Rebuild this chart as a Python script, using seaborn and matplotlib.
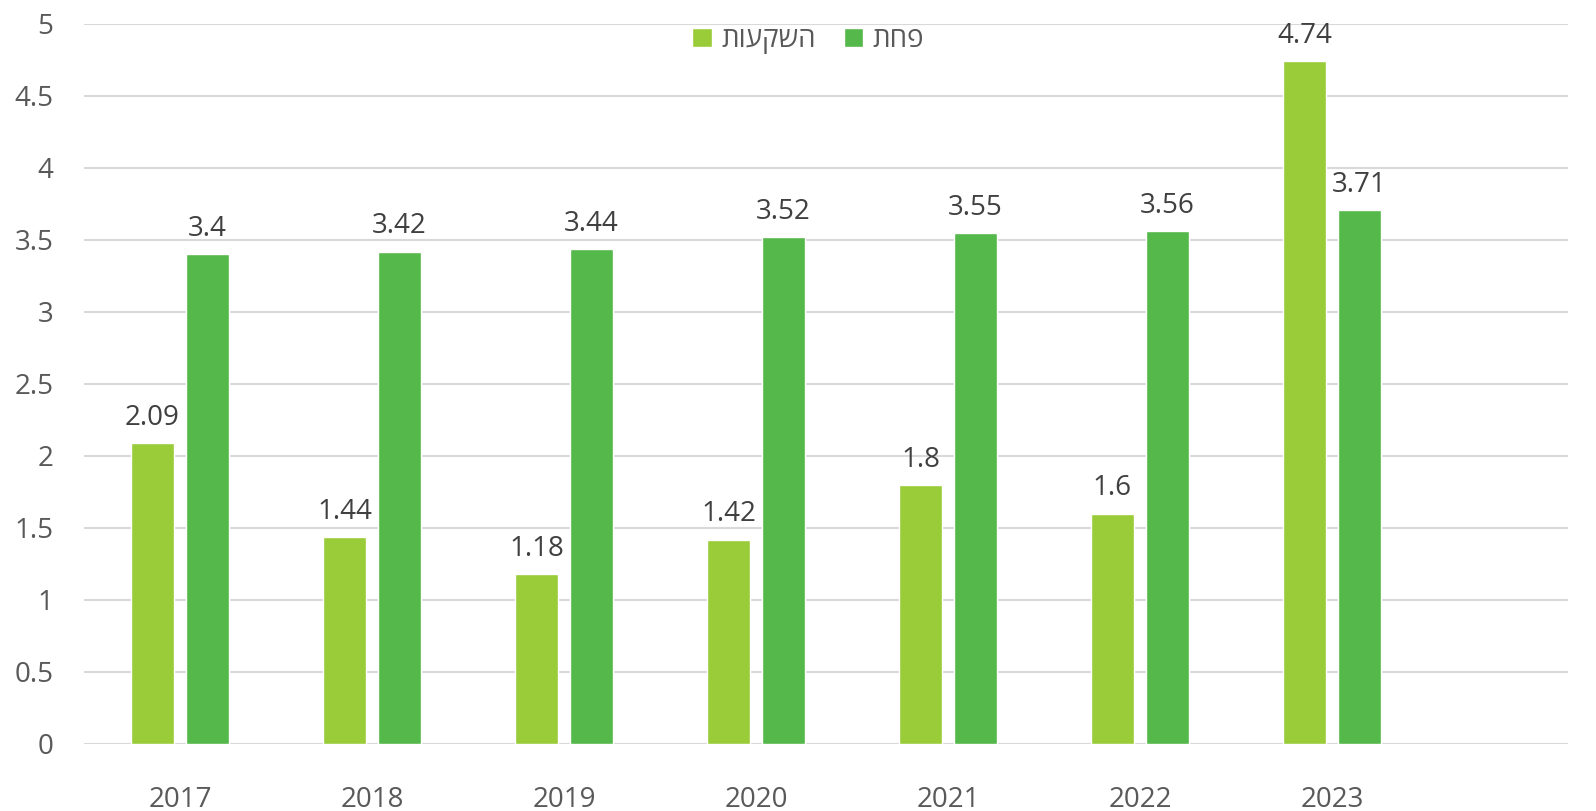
import matplotlib
matplotlib.use("Agg")
import matplotlib.pyplot as plt
import seaborn as sns
import pandas as pd

# data
years = ["2017", "2018", "2019", "2020", "2021", "2022", "2023"]
investments = [2.09, 1.44, 1.18, 1.42, 1.80, 1.60, 4.74]
depreciation = [3.40, 3.42, 3.44, 3.52, 3.55, 3.56, 3.71]

# Hebrew series names (reversed for display since matplotlib draws left-to-right)
NAME_INV = "השקעות"
NAME_DEP = "פחת"
COLORS = ["#9ACB38", "#55B84A"]

df = pd.DataFrame({
    "year": years * 2,
    "value": investments + depreciation,
    "series": [NAME_INV[::-1]] * len(years) + [NAME_DEP[::-1]] * len(years),
})

sns.set_theme(style="white")
plt.rcParams["font.family"] = ["Open Sans", "DejaVu Sans"]

fig = plt.figure(figsize=(15.96, 8.11), dpi=100)
ax = fig.add_axes([84 / 1596, 1 - 744 / 811, (1568 - 84) / 1596, (744 - 24) / 811])

sns.barplot(
    data=df, x="year", y="value", hue="series",
    palette=COLORS, width=0.573, gap=0.218,
    saturation=1, ax=ax, errorbar=None,
)

for cont in ax.containers:
    ax.bar_label(cont, labels=[f"{v:g}" for v in cont.datavalues],
                 padding=8, fontsize=20, color="#404040")

ax.set_ylim(0, 5)
ax.set_xlim(-0.5, (1568 - 84) / 192 - 0.5)
ax.set_yticks([0, 0.5, 1, 1.5, 2, 2.5, 3, 3.5, 4, 4.5, 5])
ax.set_yticklabels(["0", "0.5", "1", "1.5", "2", "2.5", "3", "3.5", "4", "4.5", "5"])
ax.yaxis.grid(True, color="#D9D9D9", linewidth=1.5)
ax.set_axisbelow(True)
ax.tick_params(axis="y", length=0, pad=22, labelsize=20, labelcolor="#595959")
ax.tick_params(axis="x", length=0, pad=30, labelsize=20, labelcolor="#595959")
ax.set_xlabel("")
ax.set_ylabel("")
for s in ["top", "right", "left", "bottom"]:
    ax.spines[s].set_visible(False)

ax.legend(loc="upper center", bbox_to_anchor=(0.488, 1.016), ncol=2, frameon=False,
          fontsize=20, labelcolor="#595959", handlelength=0.7, handleheight=0.7,
          handletextpad=0.35, columnspacing=1.0, borderaxespad=0.1)

fig.savefig("out.png", dpi=100)
